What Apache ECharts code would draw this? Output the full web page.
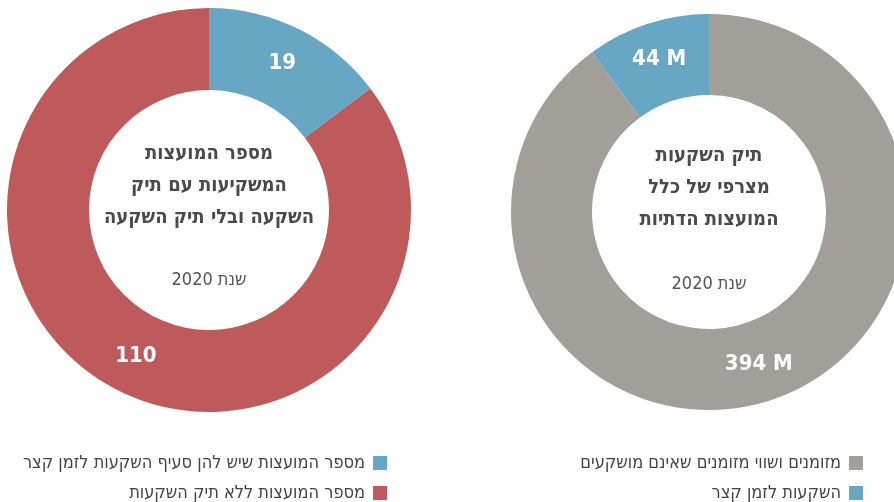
<!DOCTYPE html>
<html lang="he">
<head>
<meta charset="utf-8">
<script src="https://cdn.jsdelivr.net/npm/echarts@6/dist/echarts.min.js"></script>
<style>
  html, body { margin: 0; padding: 0; background: #fff; }
  #chart { width: 894px; height: 502px; }
</style>
</head>
<body>
<div id="chart"></div>
<script>
// מועצות: עם / בלי תיק השקעה
const councilNames = ['מספר המועצות שיש להן סעיף השקעות לזמן קצר', 'מספר המועצות ללא תיק השקעות'];
const councilValues = [19, 110];
const councilColors = ['#68a7c3', '#bf5a5c'];

// תיק השקעות מצרפי (מיליוני ש"ח)
const portfolioNames = ['מזומנים ושווי מזומנים שאינם מושקעים', 'השקעות לזמן קצר'];
const portfolioValues = [394, 44];
const portfolioColors = ['#a29f9b', '#68a7c3'];

const leftTitle = 'מספר המועצות\nהמשקיעות עם תיק\nהשקעה ובלי תיק השקעה';
const rightTitle = 'תיק השקעות\nמצרפי של כלל\nהמועצות הדתיות';
const yearText = 'שנת 2020';

const FONT = "'Liberation Sans Narrow', 'DejaVu Sans Condensed', 'Liberation Sans', sans-serif";

const chart = echarts.init(document.getElementById('chart'));

const labelStyle = {
  show: true,
  position: 'inside',
  color: '#fff',
  fontSize: 22,
  fontWeight: 'bold',
  fontFamily: FONT
};

const legendText = { color: '#444', fontSize: 18, lineHeight: 18, fontFamily: FONT, padding: [0, 3, 0, 0] };

const option = {
  animation: false,
  legend: [
    {
      data: councilNames,
      orient: 'vertical',
      align: 'right',
      right: 507,
      top: 454,
      padding: 0,
      itemWidth: 14,
      itemHeight: 14,
      itemGap: 12,
      icon: 'rect',
      textStyle: legendText
    },
    {
      data: portfolioNames,
      orient: 'vertical',
      align: 'right',
      right: 31,
      top: 454,
      padding: 0,
      itemWidth: 14,
      itemHeight: 14,
      itemGap: 12,
      icon: 'rect',
      textStyle: legendText
    }
  ],
  graphic: [
    {
      type: 'text', x: 209, y: 186,
      style: {
        text: leftTitle, textAlign: 'center', textVerticalAlign: 'middle',
        fill: '#4a4a4a', font: 'bold 20px ' + FONT, lineHeight: 32
      }
    },
    {
      type: 'text', x: 209, y: 280,
      style: {
        text: yearText, textAlign: 'center', textVerticalAlign: 'middle',
        fill: '#555', font: '18px ' + FONT
      }
    },
    {
      type: 'text', x: 709, y: 188,
      style: {
        text: rightTitle, textAlign: 'center', textVerticalAlign: 'middle',
        fill: '#4a4a4a', font: 'bold 20px ' + FONT, lineHeight: 32
      }
    },
    {
      type: 'text', x: 709, y: 284,
      style: {
        text: yearText, textAlign: 'center', textVerticalAlign: 'middle',
        fill: '#555', font: '18px ' + FONT
      }
    }
  ],
  series: [
    {
      type: 'pie',
      center: [209, 210],
      radius: [120, 202],
      startAngle: 90,
      clockwise: true,
      avoidLabelOverlap: false,
      label: Object.assign({}, labelStyle, { formatter: '{c}' }),
      labelLine: { show: false },
      emphasis: { disabled: true },
      itemStyle: { borderWidth: 0 },
      data: councilNames.map((name, i) => ({
        name, value: councilValues[i], itemStyle: { color: councilColors[i] }
      }))
    },
    {
      type: 'pie',
      center: [709, 212],
      radius: [117, 198],
      startAngle: 90,
      clockwise: true,
      avoidLabelOverlap: false,
      label: Object.assign({}, labelStyle, { formatter: '{c} M' }),
      labelLine: { show: false },
      emphasis: { disabled: true },
      itemStyle: { borderWidth: 0 },
      data: portfolioNames.map((name, i) => ({
        name, value: portfolioValues[i], itemStyle: { color: portfolioColors[i] }
      }))
    }
  ]
};

chart.setOption(option);
</script>
</body>
</html>
